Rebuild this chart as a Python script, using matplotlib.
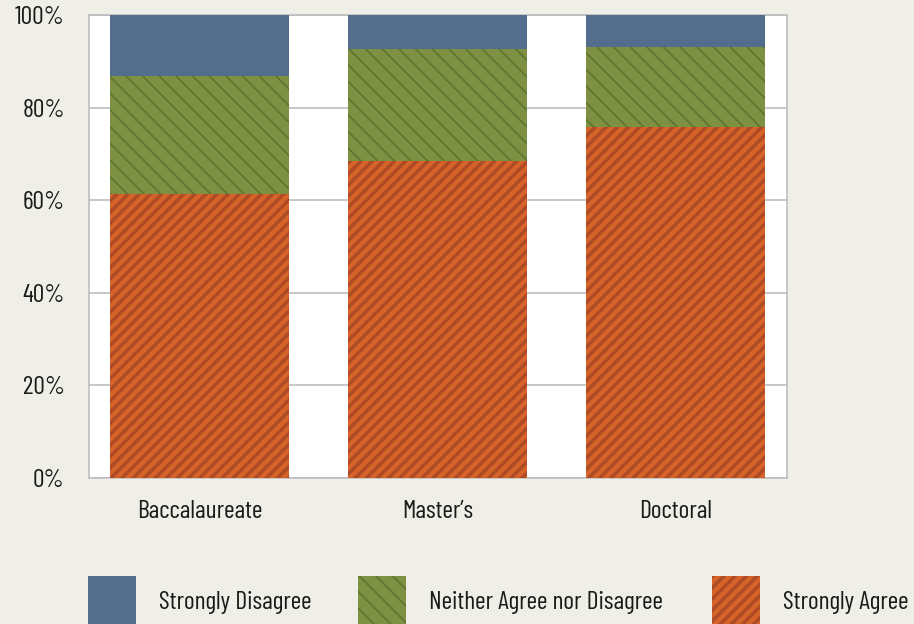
import matplotlib
matplotlib.use('Agg')
import matplotlib.pyplot as plt
from matplotlib.patches import Rectangle
import numpy as np

# data (percent)
categories = ['Baccalaureate', 'Master\u2019s', 'Doctoral']
strongly_agree = [61.3, 68.5, 75.8]
neither = [25.5, 24.2, 17.3]
strongly_disagree = [13.2, 7.3, 6.9]
legend_labels = ['Strongly Disagree', 'Neither Agree nor Disagree', 'Strongly Agree']

BG = '#EFEEE7'
BLUE = '#536E8D'
GREEN = '#7E9142'
GREEN_H = '#5B7531'
ORANGE = '#D6632A'
ORANGE_H = '#AE4A24'
TXT = '#1a1a1a'
OR_LW = 2.5
GR_LW = 1.2

plt.rcParams['font.family'] = ['Barlow Condensed', 'DejaVu Sans']

fig = plt.figure(figsize=(9.14, 6.24), dpi=100, facecolor=BG)
ax = fig.add_axes([89/914, 146/624, 698/914, 463/624])
ax.set_facecolor('white')

x = np.arange(len(categories))
w = 0.75

def hatch_lw(artists, lw):
    for a in artists:
        if hasattr(a, 'set_hatch_linewidth'):
            a.set_hatch_linewidth(lw)

plt.rcParams['hatch.linewidth'] = OR_LW
b1 = ax.bar(x, strongly_agree, w, color=ORANGE, edgecolor=ORANGE_H, hatch='///', linewidth=0, zorder=3)
hatch_lw(b1, OR_LW)
plt.rcParams['hatch.linewidth'] = GR_LW
b2 = ax.bar(x, neither, w, bottom=strongly_agree, color=GREEN, edgecolor=GREEN_H, hatch='\\\\', linewidth=0, zorder=3)
hatch_lw(b2, GR_LW)
bottom3 = np.array(strongly_agree) + np.array(neither)
ax.bar(x, strongly_disagree, w, bottom=bottom3, color=BLUE, linewidth=0, zorder=3)

ax.set_xlim(-0.465, 2.468)
ax.set_ylim(0, 100)
ax.set_yticks(np.arange(0, 101, 20))
ax.set_yticklabels([f'{v}%' for v in range(0, 101, 20)])
ax.set_xticks(x)
ax.set_xticklabels(categories)
ax.tick_params(length=0, labelsize=18.5, colors=TXT)
ax.tick_params(axis='y', pad=17.5)
ax.tick_params(axis='x', pad=15.5)
ax.yaxis.grid(True, color='#BDBDBD', linewidth=1.2, zorder=0)
for s in ax.spines.values():
    s.set_color('#BDBDBD')
    s.set_linewidth(1.2)

# legend drawn along the bottom
leg_x = [88, 358, 712]
leg_fill = [(BLUE, BLUE, None, 1.0), (GREEN, GREEN_H, '\\\\', GR_LW), (ORANGE, ORANGE_H, '///', OR_LW)]
for lx, lab, (fc, hc, h, hl) in zip(leg_x, legend_labels, leg_fill):
    plt.rcParams['hatch.linewidth'] = hl
    r = Rectangle((lx/914, 0), 48/914, 48/624, transform=fig.transFigure,
                  facecolor=fc, edgecolor=hc, hatch=h, linewidth=0)
    hatch_lw([r], hl)
    fig.add_artist(r)
    fig.text((lx + 71)/914, 22/624, lab, fontsize=18.5, va='center', ha='left', color=TXT)

fig.savefig('out.png', dpi=100, facecolor=BG)
